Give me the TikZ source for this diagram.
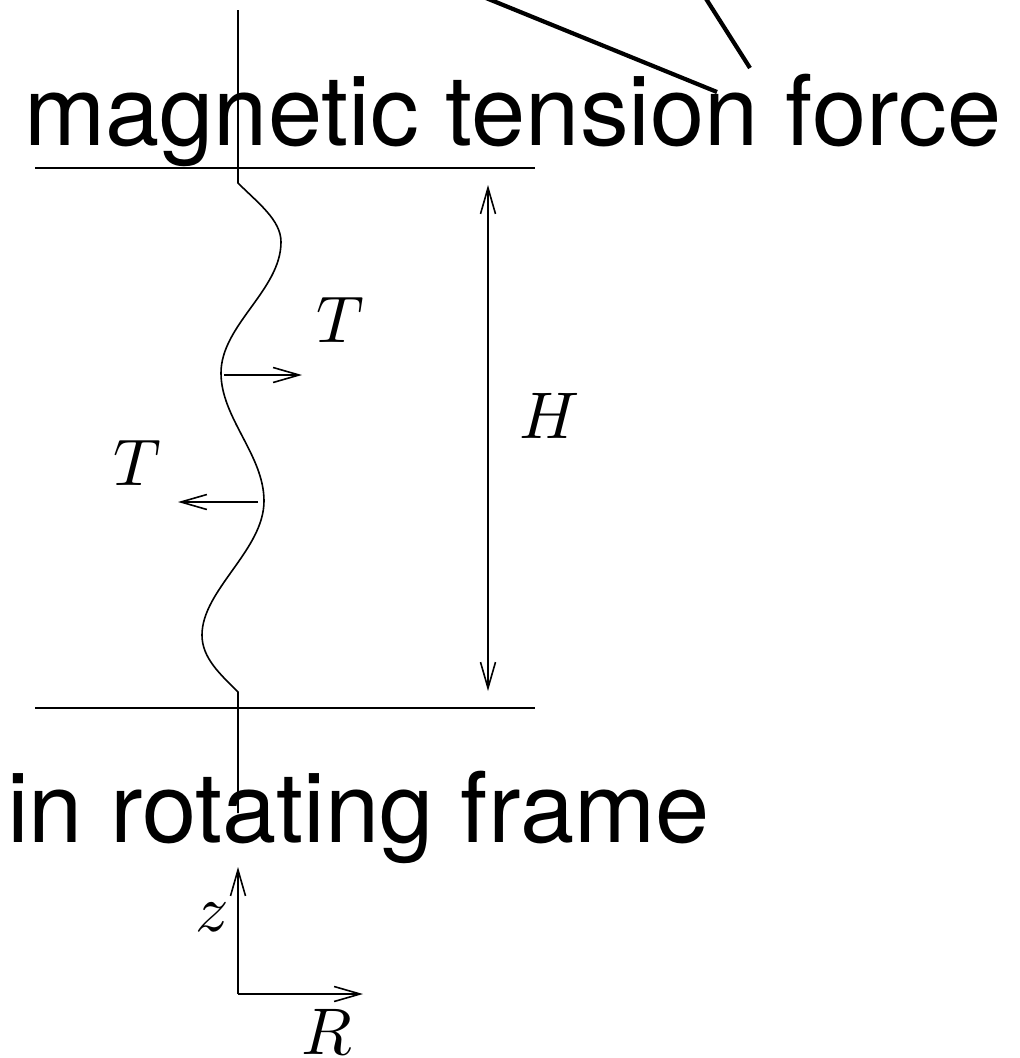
\documentclass[tikz,border=0pt]{standalone}
\usepackage{fontspec}
\setmainfont{TeX Gyre Heros}
\DeclareFontShape{OML}{cmm}{m}{it}{<->cmmi10}{}
\usetikzlibrary{arrows.meta}
\begin{document}
\begin{tikzpicture}[x=1pt,y=-1pt,
  thinline/.style={line width=1.6pt,black},
  tip/.tip={Straight Barb[length=26pt,width=15pt]},
  arr/.style={thinline,-tip},
  lead/.style={line width=4.2pt,black},
  big/.style={inner sep=0pt,anchor=base west,font=\fontsize{97.5}{100}\selectfont},
  sym/.style={inner sep=0pt,anchor=base west,font=\fontsize{66}{70}\selectfont}]
\useasboundingbox (0,0) rectangle (1020,1058);
\clip (0,0) rectangle (1020,1058);

% text
\node[big] (title) at (24,145.5) {magnetic tension force};
\node[big] (frame) at (7,842) {in rotating frame};

% leader lines (cut by the top edge)
\coordinate (la0) at (368,-50);
\coordinate (la1) at (717,92);
\coordinate (lb0) at (675,-50);
\coordinate (lb1) at (750,68);
\draw[lead] (la0) -- (la1);
\draw[lead] (lb0) -- (lb1);

% boundaries
\coordinate (tl) at (35,168);  \coordinate (tr) at (535,168);
\coordinate (bl) at (35,708);  \coordinate (br) at (535,708);
\draw[thinline] (tl) -- (tr);
\draw[thinline] (bl) -- (br);

% field line
\coordinate (ftop) at (238,10);
\coordinate (k1) at (238,183);
\coordinate (k2) at (238,692);
\coordinate (fbot) at (238,813);
\draw[thinline] (ftop) -- (k1)
  .. controls (258,203) and (281,220) .. (281,242)
  .. controls (281,290) and (221,325) .. (221,373)
  .. controls (221,418) and (264,455) .. (264,501)
  .. controls (264,550) and (202,590) .. (202,635)
  .. controls (202,658) and (220,674) .. (k2)
  -- (fbot);

% tension arrows
\coordinate (t1a) at (224,375); \coordinate (t1b) at (302,375);
\coordinate (t2a) at (258,502); \coordinate (t2b) at (178,502);
\draw[arr] (t1a) -- (t1b);
\draw[arr] (t2a) -- (t2b);
\node[sym] (T1) at (316,342.5) {$T$};
\node[sym] (T2) at (113,485) {$T$};

% height arrow
\coordinate (h1) at (488,185); \coordinate (h2) at (488,691);
\draw[thinline,tip-tip] (h1) -- (h2);
\node[sym] (H) at (519,438) {$H$};

% axes
\coordinate (o) at (238,994);
\coordinate (zt) at (238,867);
\coordinate (rt) at (363,994);
\draw[arr] (o) -- (zt);
\draw[arr] (o) -- (rt);
\node[sym] (z) at (195,931) {$z$};
\node[sym] (R) at (301,1054) {$R$};
\end{tikzpicture}
\end{document}
